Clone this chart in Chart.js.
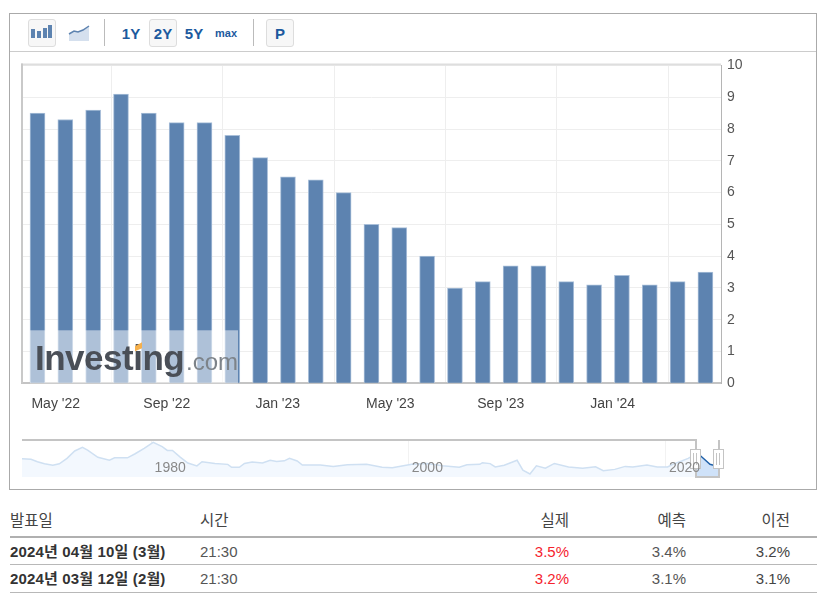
<!DOCTYPE html>
<html lang="ko">
<head>
<meta charset="utf-8">
<script src="https://cdn.jsdelivr.net/npm/chart.js@4"></script>
<style>
html,body{margin:0;padding:0;background:#fff;width:817px;height:595px;overflow:hidden;font-family:"Liberation Sans","Noto Sans CJK KR",sans-serif}
.abs{position:absolute}
#box{left:9px;top:13px;width:806px;height:475px;border:1px solid #aaa}
#bar{left:10px;top:51px;width:806px;height:1px;background:#ccc}
.btn{position:absolute;top:19px;height:26px;width:26px;background:#f7f7f7;border:1px solid #ddd;border-radius:3px}
.sep{position:absolute;top:19px;height:27px;width:1px;background:#bbb}
.rng{position:absolute;top:20px;height:27px;line-height:27px;width:28px;text-align:center;font-weight:bold;font-size:15px;color:#1c5a9e}
.cell{position:absolute;white-space:nowrap;line-height:20px;font-size:15px;color:#444}
.rule{position:absolute;left:10px;width:807px;background:#b5b5b5;height:1px}
canvas{position:absolute;left:0}
</style>
</head>
<body>
<div class="abs" id="box"></div>
<div class="abs" id="bar"></div>
<div class="btn" style="left:28px"></div>
<svg class="abs" style="left:30px;top:24px" width="24" height="16"><g fill="#5d83b0"><rect x="1" y="5" width="4" height="9"/><rect x="7" y="7" width="4" height="7"/><rect x="13" y="4" width="4" height="10"/><rect x="18" y="1" width="4" height="13"/></g></svg>
<svg class="abs" style="left:67px;top:24px" width="24" height="18"><path d="M2 10 L7 7 L11 8 L16 6 L22 2 V17 H2 Z" fill="#d5e0ee"/><path d="M2 10 L7 7 L11 8 L16 6 L22 2" fill="none" stroke="#5d83b0" stroke-width="1.5"/></svg>
<div class="sep" style="left:104px"></div>
<div class="rng" style="left:117px">1Y</div>
<div class="btn" style="left:149px"></div>
<div class="rng" style="left:149px">2Y</div>
<div class="rng" style="left:180px">5Y</div>
<div class="rng" style="left:212px;font-size:11px">max</div>
<div class="sep" style="left:253px"></div>
<div class="btn" style="left:266px"></div>
<div class="rng" style="left:266px">P</div>

<canvas id="main" width="817" height="430" style="top:0"></canvas>
<canvas id="nav" width="817" height="60" style="top:432px"></canvas>

<div id="table"></div>

<script>
// Main chart: release date of each monthly figure (the axis is ordinal: bars are evenly spaced)
const releaseDates = ['2022-04-12','2022-05-11','2022-06-10','2022-07-13','2022-08-10','2022-09-13','2022-10-13','2022-11-10','2022-12-13','2023-01-12','2023-02-14','2023-03-14','2023-04-12','2023-05-10','2023-06-13','2023-07-12','2023-08-10','2023-09-13','2023-10-12','2023-11-14','2023-12-12','2024-01-11','2024-02-13','2024-03-12','2024-04-10'];
const cpiValues = [8.5,8.3,8.6,9.1,8.5,8.2,8.2,7.8,7.1,6.5,6.4,6.0,5.0,4.9,4.0,3.0,3.2,3.7,3.7,3.2,3.1,3.4,3.1,3.2,3.5];
const xTickDates = ['2022-05-01','2022-09-01','2023-01-01','2023-05-01','2023-09-01','2024-01-01'];
const xTickLabels = ["May '22","Sep '22","Jan '23","May '23","Sep '23","Jan '24"];
const yTicks = [0,1,2,3,4,5,6,7,8,9,10];

// Navigator: whole history
const navYears = [1970.0,1970.7,1971.2,1971.75,1972.4,1972.9,1973.5,1974.1,1974.7,1975.1,1975.9,1976.8,1977.2,1978.2,1978.8,1979.5,1980.2,1980.9,1981.3,1981.7,1982.3,1982.9,1983.6,1984.0,1985.0,1986.0,1986.3,1986.9,1987.3,1987.9,1988.7,1989.3,1989.8,1990.4,1990.8,1991.4,1991.8,1993.2,1994.2,1995.3,1996.8,1998.0,1998.8,2000.3,2001.5,2002.7,2004.0,2004.6,2005.6,2005.8,2006.4,2006.8,2007.5,2008.5,2008.95,2009.5,2010.0,2010.7,2011.4,2012.5,2013.6,2014.6,2015.2,2016.1,2016.9,2017.5,2018.6,2019.4,2020.2,2020.6,2021.3,2021.8,2022.4];
const navValues = [5.8,5.5,4.2,3.1,2.3,3.1,6.0,10.0,11.9,10.5,6.6,5.0,6.3,6.3,8.5,11.4,14.6,12.3,10.3,10.3,6.7,3.5,2.0,4.2,3.3,2.8,1.2,1.2,3.3,4.0,3.5,5.0,4.4,4.7,6.0,4.6,2.4,2.4,1.7,2.6,2.8,1.2,1.0,2.8,3.2,2.0,1.3,2.6,2.8,3.7,3.2,1.4,2.3,5.0,-0.3,-2.4,2.0,0.7,3.3,1.4,0.7,1.5,-0.6,0.1,1.7,1.4,2.4,1.4,1.4,2.8,4.6,6.0,8.3];
const navSelYears = [2022.4,2022.7,2023.5,2023.7,2024.2];
const navSelValues = [8.3,7.8,2.8,2.5,2.4];
const navTickYears = [1980,2000,2020];

// Table
const tableHead = ['발표일','시간','실제','예측','이전'];
const tableDates = ['2024년 04월 10일 (3월)','2024년 03월 12일 (2월)'];
const tableTimes = ['21:30','21:30'];
const tableActual = ['3.5%','3.2%'];
const tableForecast = ['3.4%','3.1%'];
const tablePrevious = ['3.2%','3.1%'];

const FONT = '"Liberation Sans","Noto Sans CJK KR",sans-serif';

// Position of a date on the ordinal axis: fraction between the two surrounding releases
const toMs = s => Date.parse(s + 'T00:00:00Z');
function ordinal(dateStr){
  const t = toMs(dateStr);
  for (let i = 0; i < releaseDates.length - 1; i++){
    const a = toMs(releaseDates[i]), b = toMs(releaseDates[i+1]);
    if (t >= a && t <= b) return i + (t - a) / (b - a);
  }
  return 0;
}
const xTickPos = xTickDates.map(ordinal);

const framePlugin = {
  id:'frame',
  beforeDatasetsDraw(c){
    const {ctx,chartArea:a} = c;
    ctx.save();
    ctx.fillStyle = '#dedede'; ctx.fillRect(a.left-1, a.top-2, a.right-a.left+1, 2);
    ctx.fillStyle = '#c9c9c9'; ctx.fillRect(a.left-1, a.top-2, 2, a.bottom-a.top+2);
    ctx.restore();
  },
  afterDatasetsDraw(c){
    // Investing.com watermark over the lower left of the plot
    const {ctx,chartArea:a} = c;
    const x0 = a.left + 8, yb = a.bottom;
    ctx.save();
    ctx.fillStyle = 'rgba(255,255,255,0.5)';
    ctx.fillRect(x0, yb-53, 208, 53);
    ctx.textBaseline = 'alphabetic'; ctx.textAlign = 'left';
    ctx.fillStyle = '#4a4f57';
    ctx.font = 'bold 35px ' + FONT;
    ctx.letterSpacing = '-0.5px';
    ctx.fillText('Investing', x0+5, yb-13);
    ctx.letterSpacing = '0px';
    ctx.fillStyle = '#7d8389';
    ctx.font = '24px ' + FONT;
    ctx.fillText('.com', x0+156, yb-13);
    ctx.fillStyle = '#f5b04c';
    ctx.beginPath();
    ctx.moveTo(x0+105, yb-37); ctx.lineTo(x0+112, yb-41); ctx.lineTo(x0+112, yb-35); ctx.lineTo(x0+105, yb-32);
    ctx.closePath(); ctx.fill();
    ctx.restore();
  }
};

new Chart(document.getElementById('main'), {
  type:'bar',
  data:{datasets:[{
    data: cpiValues.map((v,i)=>({x:i,y:v})),
    backgroundColor:'#5d83b0',
    borderColor:'#a9bfd9',
    borderWidth:1,
    barThickness:15
  }]},
  options:{
    responsive:false, animation:false,
    layout:{padding:{left:22,top:65.5,right:0,bottom:0}},
    plugins:{legend:{display:false},tooltip:{enabled:false}},
    scales:{
      x:{
        type:'linear', min:-0.557, max:24.56, offset:false,
        afterBuildTicks(s){ s.ticks = xTickPos.map(v=>({value:v})); },
        afterFit(s){ s.height = 46.7; },
        grid:{color:'#eeeeee',drawTicks:false},
        border:{color:'#c4c4c4',width:2},
        ticks:{autoSkip:false,maxRotation:0,padding:12,color:'#444',font:{family:FONT,size:14},
          callback:(v,i)=>xTickLabels[i]}
      },
      y:{
        position:'right', min:0, max:10,
        afterBuildTicks(s){ s.ticks = yTicks.map(v=>({value:v})); },
        afterFit(s){ s.width = 96; },
        grid:{color:'#eeeeee',drawTicks:false},
        border:{color:'#b5b5b5',width:1},
        ticks:{padding:6,color:'#555',font:{family:FONT,size:14}}
      }
    }
  },
  plugins:[framePlugin]
});

const navPlugin = {
  id:'navFrame',
  beforeDatasetsDraw(c){
    const {ctx,chartArea:a,scales:{x}} = c;
    ctx.save();
    ctx.fillStyle = '#f2f2f2';
    navTickYears.forEach(y=>ctx.fillRect(Math.round(x.getPixelForValue(y)), a.top, 1, a.bottom-a.top));
    ctx.restore();
  },
  afterDatasetsDraw(c){
    const {ctx,chartArea:a,scales:{x}} = c;
    const sx = Math.round(x.getPixelForValue(navSelYears[0]));
    const ex = Math.round(x.getPixelForValue(navSelYears[navSelYears.length-1]));
    ctx.save();
    // selection outline
    ctx.strokeStyle = '#c4c4c4'; ctx.lineWidth = 2;
    ctx.beginPath();
    ctx.moveTo(a.left, a.top); ctx.lineTo(sx, a.top); ctx.lineTo(sx, a.bottom); ctx.lineTo(ex, a.bottom); ctx.lineTo(ex, a.top);
    ctx.stroke();
    // handles
    [sx, ex].forEach(h=>{
      ctx.fillStyle='#fff'; ctx.strokeStyle='#c4c4c4'; ctx.lineWidth=1;
      ctx.fillRect(h-5.5, a.top+9.5, 10, 19); ctx.strokeRect(h-5.5, a.top+9.5, 10, 19);
      ctx.fillStyle='#c4c4c4';
      ctx.fillRect(h-3, a.top+13, 1, 12); ctx.fillRect(h, a.top+13, 1, 12);
    });
    // labels sit above the handles
    ctx.fillStyle = '#888'; ctx.font = '14px ' + FONT; ctx.textAlign='left'; ctx.textBaseline='middle';
    navTickYears.forEach(y=>ctx.fillText(String(y), x.getPixelForValue(y)+4, a.top+28));
    ctx.restore();
  }
};

new Chart(document.getElementById('nav'), {
  type:'line',
  data:{datasets:[
    {data:navYears.map((y,i)=>({x:y,y:navValues[i]})),borderColor:'#cfe0f2',borderWidth:1.5,pointRadius:0,tension:0,fill:'start',backgroundColor:'#f3f8fe'},
    {data:navSelYears.map((y,i)=>({x:y,y:navSelValues[i]})),borderColor:'#1f60a8',borderWidth:1.5,pointRadius:0,tension:0,fill:'start',backgroundColor:'#cfe2f9'}
  ]},
  options:{
    responsive:false, animation:false,
    layout:{padding:{left:22,top:8,right:98,bottom:15}},
    plugins:{legend:{display:false},tooltip:{enabled:false}},
    scales:{
      x:{type:'linear',display:false,min:1970,max:2024.2},
      y:{display:false,min:-4,max:15.9}
    }
  },
  plugins:[navPlugin]
});

// Table
const tbl = document.getElementById('table');
function cell(text, style){
  const d = document.createElement('div');
  d.className = 'cell';
  d.textContent = text;
  d.style.cssText = style;
  tbl.appendChild(d);
}
function rule(top, h, col){
  const d = document.createElement('div');
  d.className = 'rule';
  d.style.cssText = `top:${top}px;height:${h}px;background:${col}`;
  tbl.appendChild(d);
}
const rightEdges = [569,686,790];
function rightCell(text, top, i, color){
  cell(text, `top:${top}px;left:${rightEdges[i]-100}px;width:100px;color:${color};text-align:right`);
}
cell(tableHead[0], 'top:511px;left:10px;font-size:15.5px');
cell(tableHead[1], 'top:511px;left:200px;font-size:15.5px');
[2,3,4].forEach((k,i)=>{ rightCell(tableHead[k], 511, i, '#444'); tbl.lastChild.style.fontSize='15.5px'; });
rule(536,2,'#b0b0b0');
tableDates.forEach((d,r)=>{
  const top = 542 + r*27;
  cell(d, `top:${top}px;left:10px;font-weight:bold;color:#333;letter-spacing:0.15px`);
  cell(tableTimes[r], `top:${top}px;left:200px;color:#555`);
  rightCell(tableActual[r], top, 0, '#f5232d');
  rightCell(tableForecast[r], top, 1, '#555');
  rightCell(tablePrevious[r], top, 2, '#444');
  rule(564 + r*28, 1, '#b8b8b8');
});
</script>
</body>
</html>
